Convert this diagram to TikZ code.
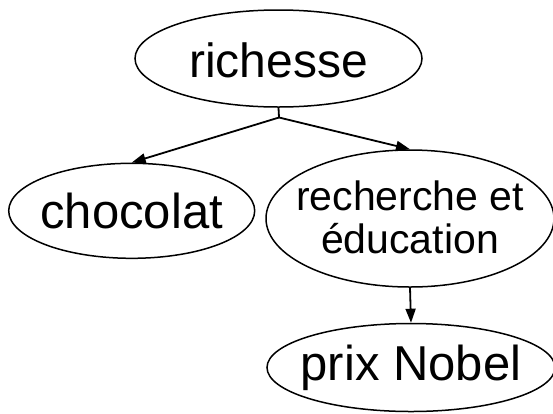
\documentclass[tikz,border=0pt]{standalone}
\usepackage{fontspec}
\setmainfont{Liberation Sans}
\usetikzlibrary{shapes.geometric,arrows.meta}
\newcommand{\nobox}[1]{\makebox[0pt][c]{#1}}
\newcommand{\lowerby}[2]{\raisebox{-#1}[\height][\depth]{#2}}
\begin{document}
\begin{tikzpicture}[x=1pt,y=-1pt,
  oval/.style={draw,ellipse,line width=1.5pt,inner sep=0pt,font=\fontsize{49}{52}\selectfont},
  conn/.style={line width=1.8pt,-{Triangle[length=14pt,width=10pt]}}]
\useasboundingbox[fill=white] (0,0) rectangle (553,413);
\node[oval,minimum width=287pt,minimum height=97pt,font=\fontsize{48}{52}\selectfont] (rich) at (278.5,58.5) {\nobox{\lowerby{2pt}{richesse}}};
\node[oval,minimum width=246pt,minimum height=95pt] (choc) at (131.7,210.8) {\nobox{chocolat}};
\node[oval,minimum width=288pt,minimum height=137pt,font=\fontsize{41}{43}\selectfont] (rech) at (410,218.5) {\nobox{\lowerby{5pt}{\begin{tabular}{@{}c@{}}recherche et\\éducation\end{tabular}}}};
\node[oval,minimum width=288pt,minimum height=88pt] (nobel) at (411,367.5) {\nobox{prix Nobel}};
\coordinate (j) at (279,117.5);
\draw[line width=1.8pt] (rich.south) -- (j);
\draw[conn] (j) -- (choc.north);
\draw[conn] (j) -- (rech.north);
\draw[conn] (rech.south) -- (nobel.north);
\end{tikzpicture}
\end{document}
